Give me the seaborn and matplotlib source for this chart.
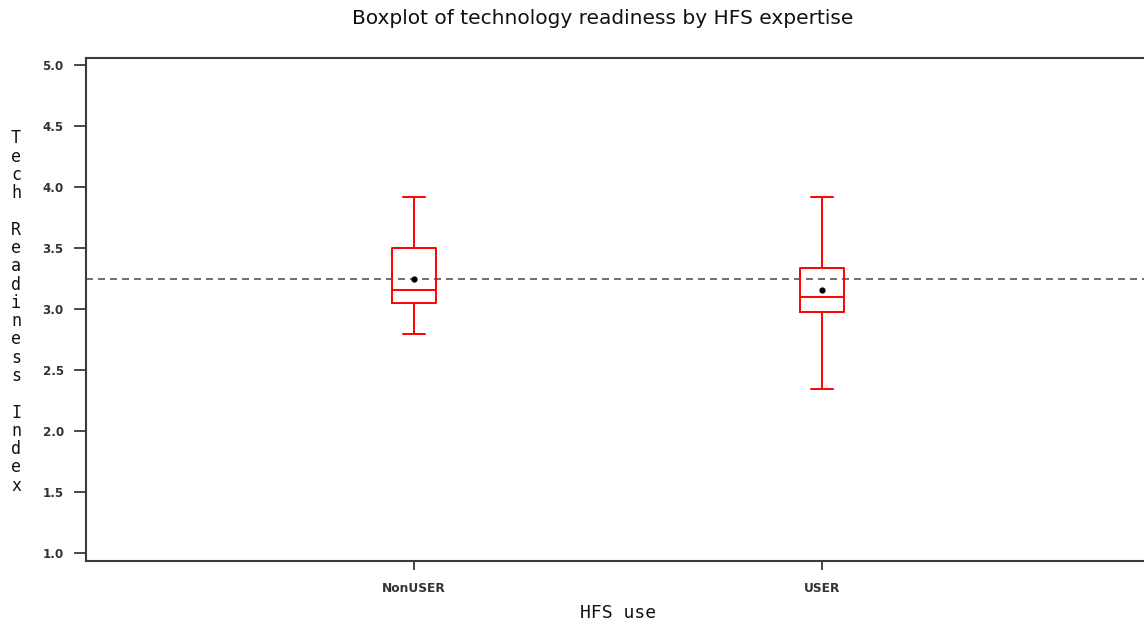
import matplotlib
matplotlib.use("Agg")
import matplotlib.pyplot as plt
import seaborn as sns
import pandas as pd

# ---- data ----
categories = ["NonUSER", "USER"]
whisker_low = [2.794, 2.346]
q1 = [3.048, 2.977]
medians = [3.157, 3.103]
q3 = [3.500, 3.340]
whisker_high = [3.917, 3.917]
means = [3.245, 3.155]
overall_mean = 3.245
y_ticks = [1.0, 1.5, 2.0, 2.5, 3.0, 3.5, 4.0, 4.5, 5.0]

# five-number summaries -> long table for seaborn
rows = []
for i, c in enumerate(categories):
    for v in (whisker_low[i], q1[i], medians[i], q3[i], whisker_high[i]):
        rows.append({"group": c, "value": v})
df = pd.DataFrame(rows)
df_mean = pd.DataFrame({"group": categories, "value": means})

sns.set_theme(style="white")
plt.rcParams["font.family"] = ["DejaVu Sans"]

W, H = 1144, 623
fig = plt.figure(figsize=(W / 100, H / 100), dpi=100)
ax = fig.add_axes([86 / W, 62.3 / H, (1150 - 86) / W, (565.3 - 62.3) / H])

sns.boxplot(data=df, x="group", y="value", order=categories, ax=ax,
            fill=False, color="#ff0000", linewidth=1.4, width=0.11,
            whis=(0, 100), showfliers=False)
sns.stripplot(data=df_mean, x="group", y="value", order=categories, ax=ax,
              jitter=False, color="black", size=4.5, marker="o",
              edgecolor="black", linewidth=0)
ax.axhline(overall_mean, color="#555555", lw=1.2, linestyle=(0, (4.2, 3.0)),
           zorder=0)

ax.set_xlim(-0.804, 1.804)
ax.set_ylim(0.94, 5.06)
ax.set_yticks(y_ticks)
ax.set_yticklabels([f"{t:.1f}" for t in y_ticks])
ax.set_xlabel("")
ax.set_ylabel("")

for s in ["left", "bottom", "top", "right"]:
    ax.spines[s].set_color("#3a3a3a")
    ax.spines[s].set_linewidth(1.5)
ax.tick_params(axis="y", which="major", direction="out", length=9,
               width=1.3, color="#3a3a3a", pad=7, labelsize=8.6,
               labelcolor="#333333", left=True)
ax.tick_params(axis="x", which="major", direction="out", length=6.5,
               width=1.3, color="#3a3a3a", pad=9, labelsize=8.8,
               labelcolor="#333333", bottom=True)
for lab in ax.get_xticklabels() + ax.get_yticklabels():
    lab.set_fontweight("bold")

fig.text(603 / W, 1 - 18 / H, "Boxplot of technology readiness by HFS expertise",
         ha="center", va="center", fontsize=14.5, color="#111111")
fig.text(618 / W, 1 - 613 / H, "HFS use", ha="center", va="center",
         fontsize=13, family="DejaVu Sans Mono", color="#111111")
fig.text(16 / W, 1 - 312 / H, "\n".join(list("Tech Readiness Index")),
         ha="center", va="center", fontsize=12, family="DejaVu Sans Mono",
         linespacing=1.02, color="#111111")

fig.savefig("out.png", dpi=100, facecolor="white")
